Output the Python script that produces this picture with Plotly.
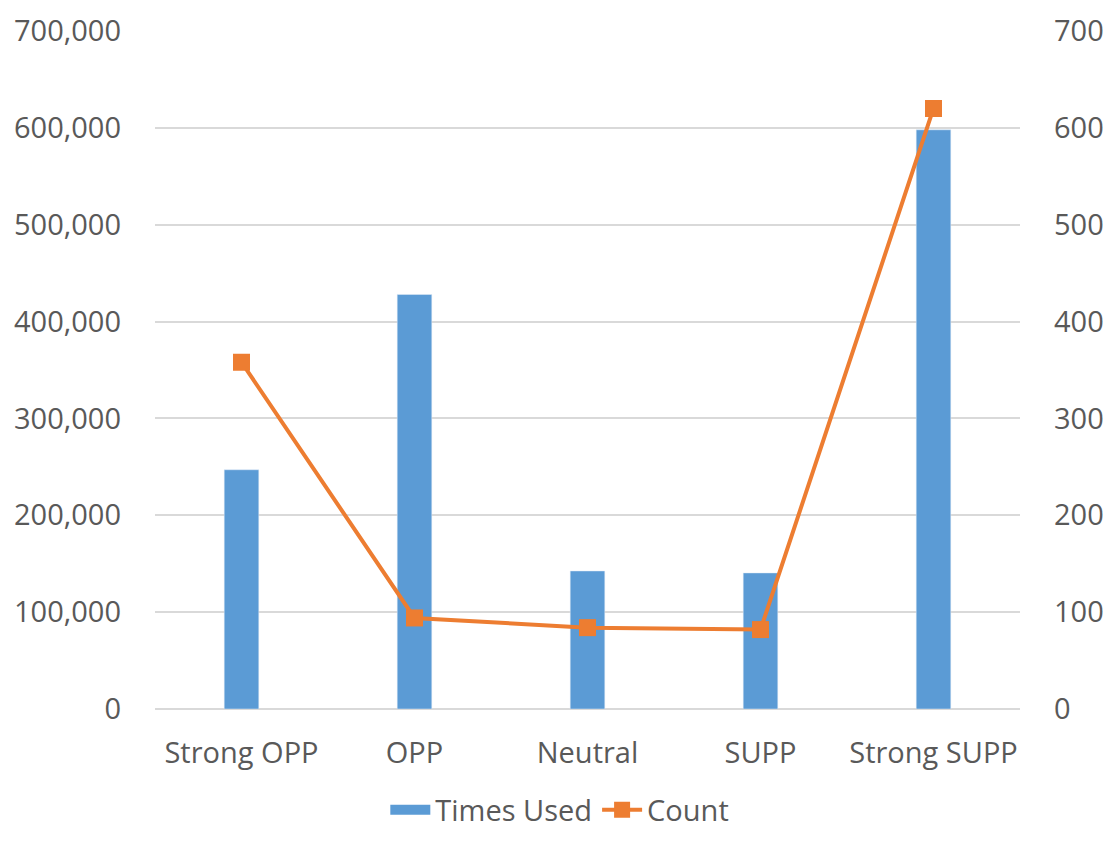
import plotly.graph_objects as go

categories = ["Strong OPP", "OPP", "Neutral", "SUPP", "Strong SUPP"]
times_used = [247000, 428000, 142500, 140500, 598000]
count = [358, 94, 84, 82, 620]
left_ticks = [0, 100000, 200000, 300000, 400000, 500000, 600000, 700000]
right_ticks = [0, 100, 200, 300, 400, 500, 600, 700]

FONT = "Open Sans"
TXT = "#595959"
FS = 29

fig = go.Figure()
fig.add_trace(go.Bar(x=categories, y=times_used, name="Times Used",
                     marker_color="#5B9BD5", width=0.2, yaxis="y", showlegend=False))
# legend entry for bars drawn as a thick band
fig.add_trace(go.Scatter(x=[None], y=[None], name="Times Used", mode="lines",
                         line=dict(color="#5B9BD5", width=16), yaxis="y"))
fig.add_trace(go.Scatter(x=categories, y=count, name="Count", mode="lines+markers",
                         line=dict(color="#ED7D31", width=4),
                         marker=dict(symbol="square", size=17, color="#ED7D31"),
                         yaxis="y2"))

fig.update_layout(
    width=1108, height=842,
    margin=dict(l=147, r=96, t=23, b=141),
    paper_bgcolor="white", plot_bgcolor="white",
    font=dict(family=FONT, size=FS, color=TXT),
    xaxis=dict(showgrid=False, showline=False, ticks="", automargin=False,
               ticklabelstandoff=24, tickfont=dict(size=FS, color=TXT)),
    yaxis=dict(range=[0, 700000], tickvals=left_ticks,
               ticktext=[f"{v:,}" for v in left_ticks],
               showgrid=True, gridcolor="#D9D9D9", gridwidth=1.5,
               zeroline=True, zerolinecolor="#D9D9D9", zerolinewidth=1.5,
               ticks="", ticklabelstandoff=33, automargin=False,
               tickfont=dict(size=FS, color=TXT)),
    yaxis2=dict(range=[0, 700], tickvals=right_ticks, overlaying="y", side="right",
                showgrid=False, zeroline=False, ticks="", ticklabelstandoff=33,
                automargin=False, tickfont=dict(size=FS, color=TXT)),
    legend=dict(orientation="h", x=0.468, xanchor="center", y=-0.149, yanchor="middle",
                font=dict(size=FS, color=TXT), itemwidth=40, traceorder="normal"),
    bargap=0.8,
)

fig.write_html("out.html")
